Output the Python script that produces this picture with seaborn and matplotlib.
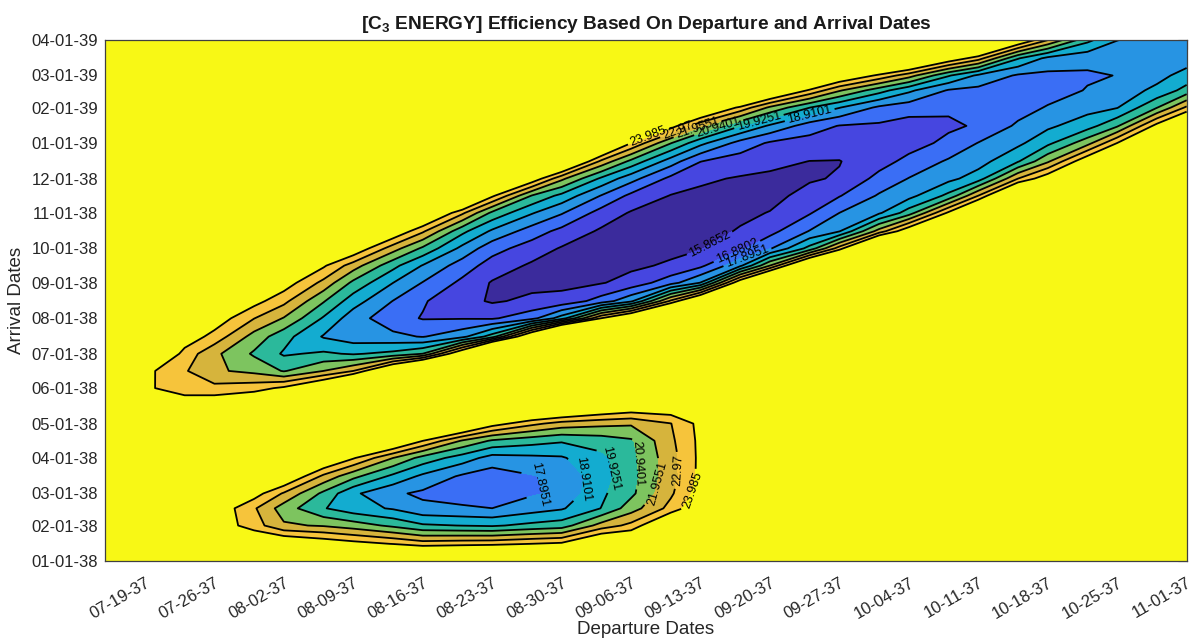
import pandas as pd
import seaborn as sns
import matplotlib.pyplot as plt
import matplotlib.dates as mdates

# grid of the porkchop: departure dates (columns) and arrival dates (rows)
departure = ["07-15-37", "07-19-37", "07-23-37", "07-26-37", "07-30-37", "08-02-37",
             "08-06-37", "08-09-37", "08-13-37", "08-16-37", "08-20-37", "08-23-37",
             "08-27-37", "08-30-37", "09-03-37", "09-06-37", "09-10-37", "09-13-37",
             "09-17-37", "09-20-37", "09-24-37", "09-27-37", "10-01-37", "10-04-37",
             "10-08-37", "10-11-37", "10-15-37", "10-18-37", "10-22-37", "10-25-37",
             "10-29-37", "11-01-37"]
arrival = ["01-01-38", "01-16-38", "02-01-38", "02-16-38", "03-01-38", "03-16-38",
           "04-01-38", "04-16-38", "05-01-38", "05-16-38", "06-01-38", "06-16-38",
           "07-01-38", "07-16-38", "08-01-38", "08-16-38", "09-01-38", "09-16-38",
           "10-01-38", "10-16-38", "11-01-38", "11-16-38", "12-01-38", "12-16-38",
           "01-01-39", "01-16-39", "02-01-39", "02-16-39", "03-01-39", "03-16-39",
           "04-01-39"]

# C3 values (km^2/s^2), one list per departure date,
# from the first arrival date (bottom) to the last (top)
c3_0715 = [33, 31, 30, 30, 31, 32, 33, 33, 32, 30, 28, 28, 30, 32, 34, 35,
           36, 37, 38, 38, 39, 39, 40, 40, 40, 40, 40, 40, 40, 40, 40]
c3_0719 = [32, 29, 27, 26.8, 28, 30, 31, 31, 30, 27, 24.2, 24.3, 26.5, 28.5, 30.5, 32,
           33, 34, 35, 36, 37, 38, 38, 39, 39, 40, 40, 40, 40, 40, 40]
c3_0723 = [31, 28, 25.7, 25.8, 27.2, 29, 30.5, 30.5, 28, 24.96, 23.36, 23.08, 23.59, 24.74, 26.8, 29,
           31, 32, 33, 34.5, 35.5, 36.5, 37, 38, 38.5, 39, 39.5, 39.5, 40, 40, 40]
c3_0726 = [30, 27, 24.8, 24.9, 26.5, 28.5, 30, 30, 29, 25.1, 23.27, 22.1, 22.2, 23.6, 24.7, 26.5,
           28.5, 30, 31.5, 33, 34, 35, 36, 37, 38, 38, 39, 39, 40, 40, 40]
c3_0730 = [28, 25.5, 23.44, 23.1, 24.5, 27, 29.5, 30.5, 28.5, 25.7, 23.56, 21.7, 20.79, 21.56, 23.0, 24.4,
           26.2, 28, 29.5, 31, 33, 34, 35, 36, 37, 37.5, 38.5, 38.5, 39.5, 40, 40]
c3_0802 = [29, 25.4, 22.1, 21.45, 22.84, 25.4, 29, 31, 30, 28, 24.2, 20.86, 19.8, 20.3, 21.89, 23.26,
           24.6, 26, 28, 30, 32, 33, 34, 35, 36, 37, 38, 38, 39, 40, 40]
c3_0806 = [29, 24.8, 21.86, 20.0, 20.69, 22.72, 25.6, 29.5, 31, 30, 25.9, 21.96, 20.08, 18.82, 19.81, 21.03,
           22.67, 24.15, 25.8, 28.5, 31, 32.5, 33.5, 34.5, 35.5, 36.5, 37.5, 38, 38.5, 39.5, 40]
c3_0809 = [30, 24.4, 21.45, 19.3, 19.1, 21.23, 24.1, 29, 32, 32, 28.7, 22.97, 19.82, 18.35, 18.35, 19.37,
           20.69, 22.46, 25.0, 27.5, 30, 32, 33, 34, 35, 36, 37, 38, 38, 39, 40]
c3_0813 = [28, 23.95, 20.72, 18.81, 18.08, 19.68, 21.96, 25.8, 29, 33, 31, 26.4, 20.21, 18.15, 17.26, 17.87,
           18.92, 20.24, 22.41, 25.1, 28, 31, 32.5, 33.5, 34.5, 35.5, 36.5, 37.5, 38, 38.5, 39.5]
c3_0816 = [27.8, 23.48, 20.07, 18.15, 17.7, 18.69, 20.56, 24.0, 28.3, 32, 33, 29.6, 20.95, 17.83, 16.82, 16.98,
           17.85, 18.85, 20.74, 23.14, 26.2, 30, 32, 33, 34, 35, 36, 37, 38, 38, 39]
c3_0820 = [28, 23.63, 19.9, 18.02, 17.48, 17.73, 19.43, 21.84, 26.3, 30, 33, 33, 25.5, 18.62, 16.82, 16.2,
           16.64, 17.4, 18.61, 20.19, 23.17, 27.5, 30.5, 32, 33.5, 34.5, 35.5, 36.5, 37.5, 38, 38.5]
c3_0823 = [28.5, 23.7, 19.8, 17.9, 17.2, 17.35, 18.5, 20.8, 24.5, 30, 34, 35, 32, 20.43, 16.75, 15.75,
           15.78, 16.43, 17.27, 18.73, 20.69, 24.2, 28, 31, 33, 34, 35, 36, 37, 38, 38]
c3_0827 = [28, 24.0, 20.19, 18.45, 17.78, 17.83, 18.68, 20.32, 23.24, 27, 32, 34, 34, 26, 17.54, 16.07,
           15.6, 15.71, 16.39, 17.4, 19.0, 20.87, 24.86, 28, 31.5, 33, 34, 35, 36, 37, 38]
c3_0830 = [28, 24.2, 20.43, 18.8, 18.1, 18.15, 18.8, 20.04, 22.56, 26.5, 31, 34, 35, 32, 19.42, 16.18,
           15.62, 15.43, 15.78, 16.58, 17.99, 19.62, 22.21, 26.8, 31, 33, 34, 35, 36, 37, 38]
c3_0903 = [30, 26, 22.37, 19.95, 19.73, 19.52, 19.65, 20.4, 22.25, 25.5, 30, 33, 34.5, 30, 24.0, 17.31,
           15.8, 15.55, 15.42, 15.71, 16.47, 17.84, 19.73, 22.7, 27, 30.5, 32.5, 34, 35, 36, 37]
c3_0906 = [30, 26, 23.27, 21.48, 20.7, 20.57, 20.65, 20.8, 22.1, 25, 30, 33, 35, 32, 26.2, 18.7,
           16.23, 15.67, 15.42, 15.45, 15.77, 16.63, 18.28, 20.65, 24.0, 27.4, 31, 33, 34, 35, 36]
c3_0910 = [31, 29, 26, 23.31, 22.8, 22.55, 22.57, 22.76, 22.94, 25, 31, 34, 35, 34, 30, 23.17,
           17.49, 16.01, 15.6, 15.32, 15.53, 15.82, 16.61, 18.39, 20.99, 24.5, 29, 32, 33.5, 34.5, 35.5]
c3_0913 = [32, 29, 26.5, 25.0, 24.5, 24.27, 24.25, 24.25, 24.32, 28, 32, 34, 35, 35, 33, 26.5,
           18.95, 16.64, 15.79, 15.54, 15.42, 15.67, 16.02, 16.9, 19.2, 22.16, 26.3, 31, 33, 34, 35]
c3_0917 = [33, 32, 31, 29.5, 28, 27.5, 27.5, 28, 29.5, 31.5, 34, 35, 35, 34.5, 33.5, 31,
           25, 18.69, 16.68, 15.94, 15.68, 15.53, 15.78, 16.37, 17.51, 19.99, 23.7, 30, 32, 33.5, 34.5]
c3_0920 = [33, 32, 31, 30, 29, 28.5, 28.5, 29, 30, 32, 34, 35, 35, 34, 33, 32,
           28.8, 21.96, 17.78, 16.55, 15.9, 15.6, 15.68, 16.11, 16.74, 18.74, 21.75, 26.2, 31, 33, 34]
c3_0924 = [34, 34, 33, 32, 31.5, 31, 31, 31.5, 32, 33, 34.5, 35, 35, 34.5, 33.5, 33,
           32, 27, 20.3, 17.95, 16.79, 16.16, 15.77, 15.85, 16.45, 17.39, 19.94, 23.8, 27.5, 31, 34]
c3_0927 = [34, 34, 34, 34, 34, 34, 34, 34, 34, 35, 35, 35, 35, 35, 34, 33,
           33, 30, 23.48, 18.86, 17.9, 16.82, 15.95, 15.83, 16.35, 16.83, 18.95, 22.07, 25.4, 30, 34]
c3_1001 = [35, 35, 34.5, 34, 34, 34, 34, 34, 34.5, 35, 35, 35, 35, 35, 34.5, 34,
           33.5, 33, 29, 22.39, 18.76, 18.01, 17.2, 16.47, 16.29, 16.72, 17.69, 20.36, 23.75, 28, 32]
c3_1004 = [35, 35, 35, 35, 35, 35, 35, 35, 35, 35, 35, 35, 35, 35, 35, 34,
           34, 33, 30, 25.0, 20.43, 18.57, 17.93, 17.18, 16.45, 16.45, 17.33, 19.12, 22.39, 27.2, 31]
c3_1008 = [35, 35, 35, 35, 35, 35, 35, 35, 35, 35, 35, 35, 35, 35, 35, 35,
           34.5, 34, 33, 30, 24.2, 20.2, 18.62, 18.03, 17.14, 16.7, 17.05, 17.8, 20.03, 24.9, 29]
c3_1011 = [35, 35, 35, 35, 35, 35, 35, 35, 35, 35, 35, 35, 35, 35, 35, 35,
           35, 34, 34, 32, 27.3, 22.99, 19.42, 18.48, 17.93, 17.0, 16.98, 17.62, 18.71, 23.4, 28.6]
c3_1015 = [35, 35, 35, 35, 35, 35, 35, 35, 35, 35, 35, 35, 35, 35, 35, 35,
           35, 35, 34, 33, 32, 27.5, 22.96, 19.84, 18.68, 18.07, 17.45, 17.47, 17.76, 20.0, 25.3]
c3_1018 = [35, 35, 35, 35, 35, 35, 35, 35, 35, 35, 35, 35, 35, 35, 35, 35,
           35, 35, 35, 35, 33, 29, 24.8, 21.79, 19.67, 18.71, 17.98, 17.42, 17.66, 18.63, 23.0]
c3_1022 = [35, 35, 35, 35, 35, 35, 35, 35, 35, 35, 35, 35, 35, 35, 35, 35,
           35, 35, 35, 35, 35, 33, 30, 25, 21.58, 19.49, 18.55, 17.96, 17.76, 18.2, 20.2]
c3_1025 = [35, 35, 35, 35, 35, 35, 35, 35, 35, 35, 35, 35, 35, 35, 35, 35,
           35, 35, 35, 35, 35, 35, 31, 27.6, 24.0, 20.8, 18.86, 18.38, 17.92, 18.35, 18.93]
c3_1029 = [35, 35, 35, 35, 35, 35, 35, 35, 35, 35, 35, 35, 35, 35, 35, 35,
           35, 35, 35, 35, 35, 35, 35, 33, 29.5, 24.4, 20.89, 19.14, 18.6, 18.3, 18.55]
c3_1101 = [35, 35, 35, 35, 35, 35, 35, 35, 35, 35, 35, 35, 35, 35, 35, 35,
           35, 35, 35, 35, 35, 35, 35, 35, 31, 26.8, 23.17, 20.31, 19.27, 18.45, 18.5]

levels = [15.8652, 16.8802, 17.8951, 18.9101, 19.9251, 20.9401, 21.9551, 22.97, 23.985]

dep_ticks = ["07-19-37", "07-26-37", "08-02-37", "08-09-37", "08-16-37", "08-23-37",
             "08-30-37", "09-06-37", "09-13-37", "09-20-37", "09-27-37", "10-04-37",
             "10-11-37", "10-18-37", "10-25-37", "11-01-37"]
arr_ticks = ["01-01-38", "02-01-38", "03-01-38", "04-01-38", "05-01-38", "06-01-38",
             "07-01-38", "08-01-38", "09-01-38", "10-01-38", "11-01-38", "12-01-38",
             "01-01-39", "02-01-39", "03-01-39", "04-01-39"]

columns = [c3_0715, c3_0719, c3_0723, c3_0726, c3_0730, c3_0802, c3_0806, c3_0809,
           c3_0813, c3_0816, c3_0820, c3_0823, c3_0827, c3_0830, c3_0903, c3_0906,
           c3_0910, c3_0913, c3_0917, c3_0920, c3_0924, c3_0927, c3_1001, c3_1004,
           c3_1008, c3_1011, c3_1015, c3_1018, c3_1022, c3_1025, c3_1029, c3_1101]
c3 = pd.DataFrame(dict(zip(departure, columns)), index=arrival)


def to_num(dates):
    return mdates.date2num(pd.to_datetime(dates, format="%m-%d-%y").to_pydatetime())


sns.set_theme(style="white")
plt.rcParams["font.family"] = ["Liberation Sans", "DejaVu Sans"]
plt.rcParams["mathtext.fontset"] = "custom"
plt.rcParams["mathtext.rm"] = "Liberation Sans"
plt.rcParams["mathtext.bf"] = "Liberation Sans:bold"

# parula-like band colours, lowest band first
band_colors = ["#3b2b9c", "#4646e0", "#3a6ef5", "#2794e3", "#13acd0",
               "#2bb99b", "#7dc45f", "#d6b43c", "#f6c43b", "#f8f815"]

x = to_num(departure)
y = to_num(arrival)

fig = plt.figure(figsize=(11.96, 6.4), dpi=100)
ax = fig.add_axes([0.088, 0.1234, 0.9042, 0.8141])

ax.contourf(x, y, c3.values, levels=[0] + levels + [100], colors=band_colors)
# one contour set per level so each label goes on the right line
lines = {lev: ax.contour(x, y, c3.values, levels=[lev], colors="black", linewidths=1.3)
         for lev in levels}

# label spots (departure, arrival) roughly where the original put them
label_spots = [
    (23.985, "09-08-37", "01-01-39"), (22.97, "09-11-37", "01-05-39"),
    (21.9551, "09-13-37", "01-07-39"), (20.9401, "09-15-37", "01-10-39"),
    (19.9251, "09-19-37", "01-16-39"), (18.9101, "09-24-37", "01-23-39"),
    (15.8652, "09-14-37", "10-04-38"), (16.8802, "09-17-37", "09-22-38"),
    (17.8951, "09-18-37", "09-16-38"),
    (17.8951, "08-28-37", "03-09-38"), (18.9101, "09-01-37", "03-14-38"),
    (19.9251, "09-04-37", "03-23-38"), (20.9401, "09-07-37", "03-27-38"),
    (21.9551, "09-08-37", "03-11-38"), (22.97, "09-10-37", "03-21-38"),
    (23.985, "09-12-37", "03-04-38"),
]
for lev, d, a in label_spots:
    pos = (to_num([d])[0], to_num([a])[0])
    lines[lev].clabel(manual=[pos], fmt="%g", fontsize=9, inline=True, inline_spacing=3)

ax.set_xlim(x[0], x[-1])
ax.set_ylim(y[0], y[-1])
ax.set_xticks(to_num(dep_ticks), labels=dep_ticks)
ax.set_yticks(to_num(arr_ticks), labels=arr_ticks)
ax.tick_params(direction="in", length=6.5, width=0.8, top=True, right=True,
               color="#404040", labelcolor="#262626", labelsize=12)
ax.tick_params(axis="y", pad=5)
ax.tick_params(axis="x", pad=10)
for lbl in ax.get_xticklabels():
    lbl.set_rotation(30)
    lbl.set_ha("right")
    lbl.set_va("top")
    lbl.set_rotation_mode("anchor")
for s in ax.spines.values():
    s.set_color("#404040")
    s.set_linewidth(0.9)

ax.set_title(r"[C$_\mathbf{3}$ ENERGY] Efficiency Based On Departure and Arrival Dates",
             fontsize=13.8, fontweight="bold", color="#1a1a1a", pad=8)
ax.set_xlabel("Departure Dates", fontsize=13.5, color="#262626", labelpad=0)
ax.set_ylabel("Arrival Dates", fontsize=13.5, color="#262626", labelpad=5)

fig.savefig("out.png", dpi=100)
